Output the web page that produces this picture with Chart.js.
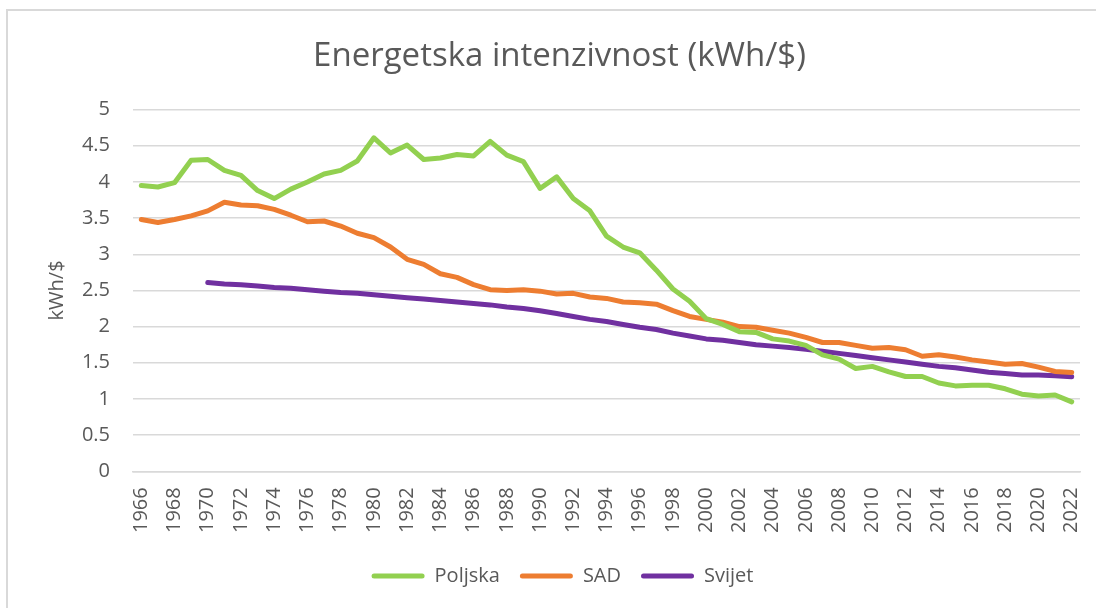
<!DOCTYPE html>
<html>
<head>
<meta charset="utf-8">
<script src="https://cdn.jsdelivr.net/npm/chart.js@4"></script>
<style>
  html, body { margin: 0; padding: 0; background: #fff; }
  #wrap { position: relative; width: 1096px; height: 608px; overflow: hidden; }
  #frame { position: absolute; left: 6px; top: 9px; width: 1200px; height: 700px;
           border-left: 2px solid #d9d9d9; border-top: 2px solid #d9d9d9; }
  canvas { position: absolute; left: 0; top: 0; }
</style>
</head>
<body>
<div id="wrap">
  <div id="frame"></div>
  <canvas id="c" width="1096" height="608"></canvas>
</div>
<script>
const years = [];
for (let y = 1966; y <= 2022; y++) years.push(String(y));

const poljska = [
  3.95, 3.93, 3.99, 4.30, 4.31, 4.16, 4.09, 3.88, 3.77, 3.90,
  4.00, 4.11, 4.16, 4.29, 4.61, 4.40, 4.51, 4.31, 4.33, 4.38,
  4.36, 4.56, 4.37, 4.28, 3.91, 4.07, 3.77, 3.60, 3.25, 3.10,
  3.02, 2.78, 2.52, 2.35, 2.11, 2.03, 1.93, 1.92, 1.83, 1.80,
  1.74, 1.61, 1.55, 1.42, 1.45, 1.375, 1.31, 1.31, 1.22, 1.18,
  1.19, 1.19, 1.14, 1.065, 1.04, 1.055, 0.96
];
const sad = [
  3.48, 3.44, 3.48, 3.53, 3.60, 3.72, 3.68, 3.67, 3.62, 3.54,
  3.45, 3.46, 3.39, 3.29, 3.23, 3.10, 2.93, 2.86, 2.73, 2.68,
  2.58, 2.51, 2.50, 2.51, 2.49, 2.45, 2.46, 2.41, 2.39, 2.34,
  2.33, 2.31, 2.22, 2.14, 2.10, 2.06, 2.00, 1.99, 1.95, 1.91,
  1.85, 1.78, 1.78, 1.74, 1.70, 1.71, 1.68, 1.59, 1.61, 1.58,
  1.54, 1.51, 1.48, 1.49, 1.44, 1.38, 1.365
];
const svijet = [
  null, null, null, null, 2.61, 2.59, 2.58, 2.56, 2.54, 2.53,
  2.51, 2.49, 2.47, 2.46, 2.44, 2.42, 2.40, 2.38, 2.36, 2.34,
  2.32, 2.30, 2.27, 2.25, 2.22, 2.18, 2.14, 2.10, 2.07, 2.03,
  1.99, 1.96, 1.91, 1.87, 1.83, 1.81, 1.78, 1.75, 1.73, 1.71,
  1.685, 1.66, 1.63, 1.60, 1.57, 1.54, 1.51, 1.48, 1.45, 1.43,
  1.40, 1.37, 1.35, 1.33, 1.33, 1.32, 1.305
];
const seriesNames = ['Poljska', 'SAD', 'Svijet'];
const seriesColors = ['#92d050', '#ed7d31', '#7030a0'];
const titleText = 'Energetska intenzivnost (kWh/$)';
const yTitle = 'kWh/$';

const FONT = '"Open Sans", sans-serif';
const GREY = '#595959';

function ds(label, data, color) {
  return {
    label, data,
    borderColor: color, backgroundColor: color,
    borderWidth: 5, pointRadius: 0, pointHoverRadius: 0,
    borderCapStyle: 'round', borderJoinStyle: 'round',
    tension: 0, spanGaps: false
  };
}

const boxShift = {
  id: 'boxShift',
  afterLayout(chart) {
    if (chart.legend) { chart.legend.left += 19; chart.legend.right += 19; }
    if (chart.titleBlock) { chart.titleBlock.left += 16; chart.titleBlock.right += 16; }
  }
};

new Chart(document.getElementById('c'), {
  type: 'line',
  data: {
    labels: years,
    datasets: [
      ds(seriesNames[0], poljska, seriesColors[0]),
      ds(seriesNames[1], sad, seriesColors[1]),
      ds(seriesNames[2], svijet, seriesColors[2])
    ]
  },
  plugins: [boxShift],
  options: {
    responsive: false,
    animation: false,
    devicePixelRatio: 1,
    layout: { padding: { left: 7, right: 16, top: 0, bottom: 12 } },
    plugins: {
      tooltip: { enabled: false },
      title: {
        display: true, text: titleText, color: GREY,
        font: { family: FONT, size: 33, weight: 'normal' },
        padding: { top: 37, bottom: 33 }
      },
      legend: {
        position: 'bottom',
        labels: {
          color: GREY,
          font: { family: FONT, size: 20 },
          boxWidth: 53, boxHeight: 5,
          useBorderRadius: true, borderRadius: 2.5,
          padding: 20,
          generateLabels: (chart) => chart.data.datasets.map((d, i) => ({
            text: d.label, fillStyle: d.borderColor, strokeStyle: d.borderColor,
            lineWidth: 0, hidden: false, datasetIndex: i, fontColor: GREY,
            borderRadius: 2.5
          }))
        }
      }
    },
    scales: {
      x: {
        offset: true,
        afterFit: (s) => { s.height -= 3; s.paddingRight = 0; },
        grid: { display: false, drawTicks: false },
        border: { display: true, color: '#d9d9d9', width: 1.5 },
        ticks: {
          color: GREY, font: { family: FONT, size: 20 },
          autoSkip: false, minRotation: 90, maxRotation: 90, padding: 16,
          callback: function (v, i) { return i % 2 === 0 ? years[i] : null; }
        }
      },
      y: {
        min: 0, max: 5,
        afterFit: (s) => { s.width = 126; },
        grid: { color: '#d9d9d9', lineWidth: 1.5, drawTicks: false },
        border: { display: false },
        ticks: {
          stepSize: 0.5, color: GREY, font: { family: FONT, size: 20 }, padding: 23,
          callback: (v) => String(Math.round(v * 10) / 10)
        },
        title: {
          display: true, text: yTitle, color: GREY,
          font: { family: FONT, size: 20 },
          padding: { top: 38, bottom: 0 }
        }
      }
    }
  }
});
</script>
</body>
</html>
